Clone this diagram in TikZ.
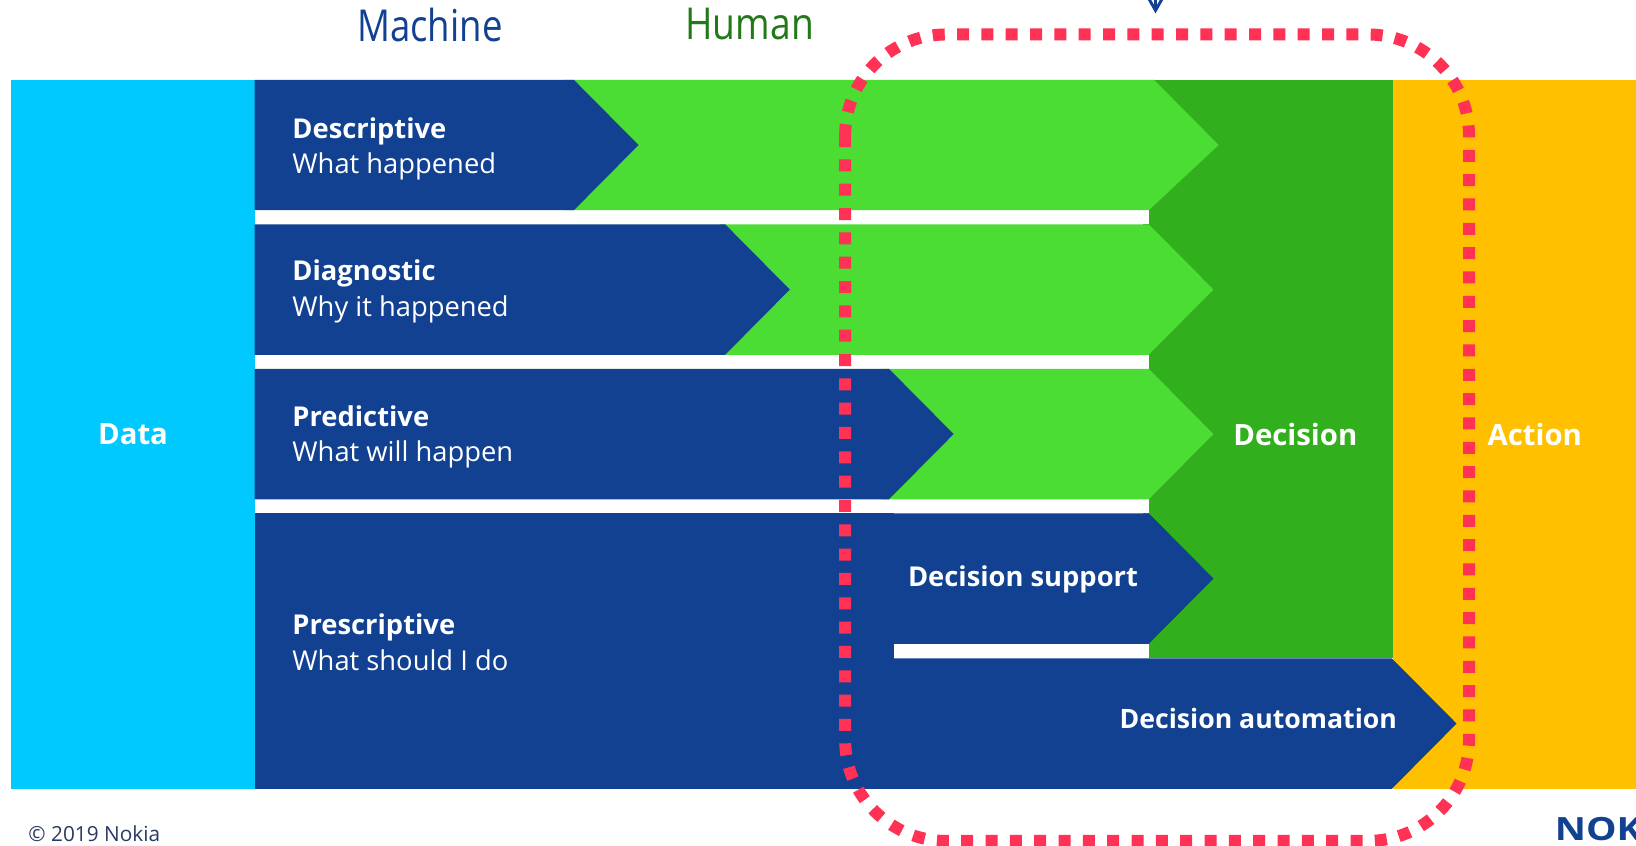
\documentclass[tikz,border=0pt]{standalone}
\usepackage{fontspec}
\setmainfont{Open Sans}
\definecolor{nblue}{HTML}{124191}
\definecolor{ncyan}{HTML}{00C9FF}
\definecolor{nlgreen}{HTML}{4BDD33}
\definecolor{ndgreen}{HTML}{31AF1D}
\definecolor{norange}{HTML}{FFC000}
\definecolor{nred}{HTML}{FF3154}
\definecolor{nhuman}{HTML}{23791A}
\definecolor{ncopy}{HTML}{2A3A63}
\begin{document}
\begin{tikzpicture}[x=0.7826pt,y=-0.7826pt,
  big/.style={text=white,font=\fontsize{22}{26}\selectfont\bfseries,inner sep=0},
  rowtxt/.style={text=white,align=left,anchor=west,inner sep=0,font=\fontsize{20.5}{26.6}\selectfont},
  head/.style={inner sep=0,anchor=base,font=\fontsize{33}{36}\selectfont}]
\path[use as bounding box] (0,0) rectangle (1568,810.8);
\clip (0,0) rectangle (1568,810.8);
\fill[white] (0,0) rectangle (1568,810.8);
% panels
\fill[ncyan] (11,76.5) rectangle (244.5,756);
\fill[norange] (1335,76.5) rectangle (1568,756);
\fill[ndgreen] (1095,76.5) rectangle (1335,631);
% white gaps
\fill[white] (244,201.5) rectangle (1101,215);
\fill[white] (244,340) rectangle (1101,353.5);
\fill[white] (244,478.5) rectangle (1101,492);
\fill[white] (857,617) rectangle (1101,631);
% row 1
\fill[nlgreen] (540,76.5) -- (1106,76.5) -- (1168,139) -- (1101,201.5) -- (540,201.5) -- cycle;
\fill[nblue] (244,76.5) -- (550,76.5) -- (612,139) -- (550,201.5) -- (244,201.5) -- cycle;
% row 2
\fill[nlgreen] (690,215) -- (1101,215) -- (1163,277.5) -- (1101,340) -- (690,340) -- cycle;
\fill[nblue] (244,215) -- (695,215) -- (757,277.5) -- (695,340) -- (244,340) -- cycle;
% row 3
\fill[nlgreen] (845,353.5) -- (1101,353.5) -- (1163,416) -- (1101,478.5) -- (845,478.5) -- cycle;
\fill[nblue] (244,353.5) -- (852,353.5) -- (914,416) -- (852,478.5) -- (244,478.5) -- cycle;
% row 4
\fill[nblue] (244,492) rectangle (857,756);
\fill[nblue] (856,492) -- (1101,492) -- (1163,554.5) -- (1101,617) -- (856,617) -- cycle;
\fill[nblue] (856,631) -- (1334,631) -- (1396,693.5) -- (1334,756) -- (856,756) -- cycle;
% labels
\node[big] (data) at (127.5,416) {Data};
\node[big] (decision) at (1241.5,416) {Decision};
\node[big] (action) at (1471,416) {Action};
\node[big,font=\fontsize{20.5}{26}\selectfont\bfseries] (support) at (980.5,555) {Decision support};
\node[big,font=\fontsize{20}{26}\selectfont\bfseries] (automation) at (1206,689) {Decision automation};
\node[rowtxt] (r1) at (280,142.5) {\textbf{Descriptive}\\What happened};
\node[rowtxt] (r2) at (280,279.5) {\textbf{Diagnostic}\\Why it happened};
\node[rowtxt] (r3) at (280,418.5) {\textbf{Predictive}\\What will happen};
\node[rowtxt] (r4) at (280,615.5) {\textbf{Prescriptive}\\What should I do};
\node[head,text=nblue] (machine) at (412,40) {\scalebox{0.83}[1]{Machine}};
\node[head,text=nhuman] (human) at (718.5,37.4) {\scalebox{0.845}[1]{Human}};
\node[inner sep=0,anchor=west,text=ncopy,font=\fontsize{15.6}{18}\selectfont] (copy) at (27,799) {© 2019 Nokia};
\node[inner sep=0,anchor=base west,text=nblue,font=\fontsize{24}{28}\selectfont\bfseries] (logo) at (1490,806) {\scalebox{1.2}[1]{NOK}};
% arrow
\coordinate (atop) at (1107.5,-5);
\coordinate (atip) at (1107.5,10);
\draw[nblue,line width=2.2pt] (atop) -- (atip);
\draw[nblue,line width=2.2pt,line join=miter] (1099,-5) -- (atip) -- (1116,-5);
% dashed frame
\draw[nred,line width=9pt,dash pattern=on 9pt off 9.25pt]
  (810,129.4) -- (810,709) arc[start angle=180,end angle=90,radius=97]
  -- (1311,806) arc[start angle=90,end angle=0,radius=97]
  -- (1408,130) arc[start angle=0,end angle=-90,radius=97]
  -- (907,33) arc[start angle=-90,end angle=-180,radius=97] -- (810,129.4);
\end{tikzpicture}
\end{document}
